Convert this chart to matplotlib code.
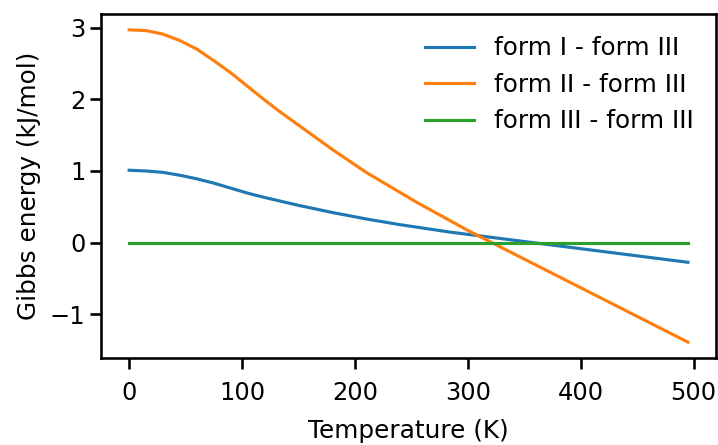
import matplotlib
matplotlib.use("Agg")
import matplotlib.pyplot as plt
import seaborn as sns

sns.set_context("talk")

temperature = [0, 15, 30, 45, 60, 75, 90, 105, 120, 135, 150, 165, 180, 195, 210, 225,
               240, 255, 270, 285, 300, 315, 330, 345, 360, 375, 390, 405, 420, 435,
               450, 465, 480, 495]

form1_vs_form3 = [1.01, 1.00, 0.98, 0.94, 0.89, 0.83, 0.76, 0.69, 0.63, 0.575, 0.52, 0.47,
                  0.42, 0.375, 0.33, 0.29, 0.25, 0.215, 0.18, 0.145, 0.115, 0.085, 0.055,
                  0.025, -0.005, -0.035, -0.065, -0.095, -0.125, -0.155, -0.185, -0.215,
                  -0.245, -0.275]

form2_vs_form3 = [2.97, 2.96, 2.91, 2.82, 2.70, 2.54, 2.37, 2.18, 1.99, 1.81, 1.64, 1.47,
                  1.30, 1.14, 0.98, 0.84, 0.70, 0.56, 0.43, 0.30, 0.17, 0.05, -0.07, -0.19,
                  -0.31, -0.43, -0.55, -0.67, -0.79, -0.91, -1.03, -1.15, -1.27, -1.39]

form3_vs_form3 = [0.0] * len(temperature)

labels = ["form I - form III", "form II - form III", "form III - form III"]

fig, ax = plt.subplots(figsize=(7.18, 4.45), dpi=100)
fig.subplots_adjust(left=0.141, right=0.997, top=0.968, bottom=0.196)

ax.plot(temperature, form1_vs_form3, label=labels[0])
ax.plot(temperature, form2_vs_form3, label=labels[1])
ax.plot(temperature, form3_vs_form3, label=labels[2])

ax.set_xlabel("Temperature (K)", fontsize=17.8, labelpad=10)
ax.set_ylabel("Gibbs energy (kJ/mol)", fontsize=17.8, labelpad=6)
ax.set_yticks([-1, 0, 1, 2, 3])
ax.tick_params(labelsize=17.4, length=8)
ax.tick_params(axis="x", pad=8.5)
ax.legend(frameon=False, loc="upper right", fontsize=17.8)

fig.savefig("out.png", dpi=100)
